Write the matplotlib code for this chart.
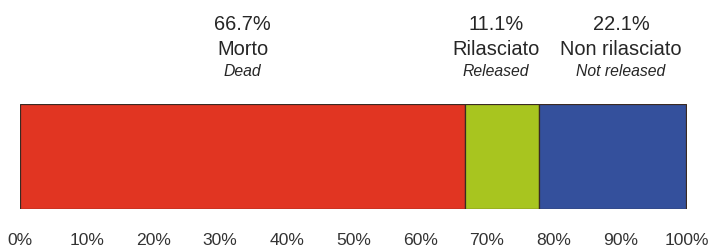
import matplotlib.pyplot as plt
from matplotlib.transforms import blended_transform_factory

plt.rcParams['font.family'] = ['Liberation Sans', 'DejaVu Sans']

# dati
categorie = ['Morto', 'Rilasciato', 'Non rilasciato']
categorie_en = ['Dead', 'Released', 'Not released']
percentuali = [66.7, 11.1, 22.1]
colori = ['#e13522', '#a8c51f', '#34509c']
label_x = [33.4, 71.4, 90.1]  # centro delle etichette (in % dell'asse)
ticks = list(range(0, 101, 10))

fig = plt.figure(figsize=(7.12, 2.47), dpi=100)
ax = fig.add_axes([20 / 712, 1 - 209 / 247, 667 / 712, 105 / 247])

left = 0
for p, c in zip(percentuali, colori):
    ax.barh(0, p, left=left, height=1, color=c, edgecolor='#3a2a22', linewidth=0.9)
    left += p

ax.set_xlim(0, 100)
ax.set_ylim(-0.5, 0.5)
ax.set_yticks([])
ax.set_xticks(ticks)
ax.set_xticklabels([f'{t}%' for t in ticks])
ax.tick_params(axis='x', length=0, pad=17, labelsize=12.6, labelcolor='#333333')
for s in ax.spines.values():
    s.set_visible(False)

# etichette sopra la barra
tr = blended_transform_factory(ax.transData, fig.transFigure)
for x, p, it, en in zip(label_x, percentuali, categorie, categorie_en):
    ax.text(x, 1 - 30 / 247, f'{p}%', transform=tr, ha='center', va='baseline',
            fontsize=14.4, color='#262626')
    ax.text(x, 1 - 55 / 247, it, transform=tr, ha='center', va='baseline',
            fontsize=14.4, color='#262626')
    ax.text(x, 1 - 76 / 247, en, transform=tr, ha='center', va='baseline',
            fontsize=11.3, style='italic', color='#262626')

fig.savefig('out.png', dpi=100)
